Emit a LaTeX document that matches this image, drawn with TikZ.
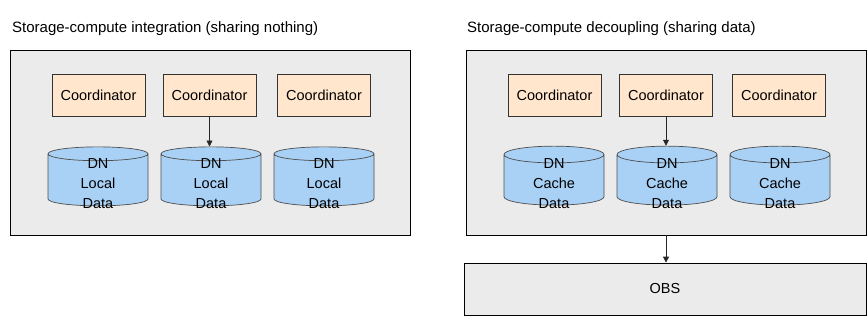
\documentclass[tikz,border=0pt]{standalone}
\usepackage{fontspec}
\setmainfont{Liberation Sans}
\usetikzlibrary{shapes.geometric,arrows.meta}
\definecolor{panelgray}{HTML}{EBEBEB}
\definecolor{coordfill}{HTML}{FFE6CC}
\definecolor{cylfill}{HTML}{A9D1F5}
\definecolor{cyldraw}{HTML}{4D4D4D}
\newcommand\dnlabel[2]{\raisebox{-8.5pt}[0pt][0pt]{\begin{tabular}{@{}c@{}}DN\\#1\\#2\end{tabular}}}
\tikzset{
  panel/.style={draw=black, fill=panelgray, line width=0.8pt, inner sep=0},
  coordbox/.style={draw=black!80, fill=coordfill, line width=0.7pt, minimum width=93pt, minimum height=42pt, inner sep=0, font=\fontsize{14.5}{17}\selectfont},
  dn/.style={cylinder, shape border rotate=90, aspect=0.4, draw=cyldraw, fill=cylfill, line width=0.7pt, minimum width=100pt, minimum height=59pt, inner sep=0, font=\fontsize{14.5}{20}\selectfont},
  title/.style={anchor=west, inner sep=0, font=\fontsize{15}{18}\selectfont},
  arr/.style={-{Triangle[length=6pt,width=6pt]}, line width=0.8pt, draw=black!85},
}
\begin{document}
\begin{tikzpicture}[x=1pt,y=-1pt]
\useasboundingbox (0,0) rectangle (867,316);
% titles
\node[title] (t1) at (12,29) {Storage-compute integration (sharing nothing)};
\node[title] (t2) at (467,29) {Storage-compute decoupling (sharing data)};
% panels
\node[panel, minimum width=400pt, minimum height=185pt] (p1) at (210,142.5) {};
\node[panel, minimum width=400pt, minimum height=185pt] (p2) at (666,142.5) {};
\node[panel, minimum width=402pt, minimum height=52pt] (obs) at (665,289) {\fontsize{14.5}{17}\selectfont OBS};
% coordinators left
\node[coordbox] (c1) at (98.5,95) {Coordinator};
\node[coordbox] (c2) at (209.5,95) {Coordinator};
\node[coordbox] (c3) at (324,95) {Coordinator};
% coordinators right
\node[coordbox] (c4) at (554.5,95) {Coordinator};
\node[coordbox] (c5) at (666,95) {Coordinator};
\node[coordbox] (c6) at (779,95) {Coordinator};
% data nodes left
\node[dn] (d1) at (98,180) {\dnlabel{Local}{Data}};
\node[dn] (d2) at (211,180) {\dnlabel{Local}{Data}};
\node[dn] (d3) at (324,180) {\dnlabel{Local}{Data}};
% data nodes right
\node[dn] (d4) at (554,180) {\dnlabel{Cache}{Data}};
\node[dn] (d5) at (667,180) {\dnlabel{Cache}{Data}};
\node[dn] (d6) at (780,180) {\dnlabel{Cache}{Data}};
% arrows
\draw[arr] (c2.south) -- (c2.south |- d2.north);
\draw[arr] (c5.south) -- (c5.south |- d5.north);
\draw[arr] (p2.south) -- (p2.south |- obs.north);
\end{tikzpicture}
\end{document}
